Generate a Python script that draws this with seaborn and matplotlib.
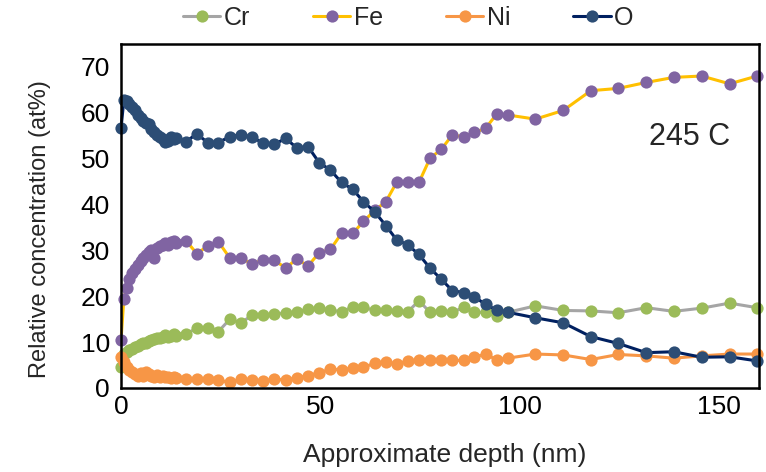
import pandas as pd
import seaborn as sns
import matplotlib.pyplot as plt

# depth (nm)
depth = [0, 0.7, 1.4, 2.1, 2.8, 3.5, 4.2, 4.9, 5.5, 6.2, 6.9, 7.6, 8.3, 9.0, 9.7,
         10.4, 11.1, 11.8, 12.5, 13.2, 13.9,
         16.3, 19.0, 21.7, 24.4, 27.3, 30.1, 32.9, 35.7, 38.4, 41.3, 44.1, 46.9,
         49.7, 52.5, 55.3, 58.1, 60.8, 63.6, 66.4, 69.1, 71.9, 74.7, 77.5, 80.3,
         83.1, 85.9, 88.6, 91.4, 94.2, 97.0,
         103.9, 110.9, 117.8, 124.7, 131.7, 138.6, 145.6, 152.6, 159.5]

cr = [4.6, 7.4, 7.9, 8.3, 8.6, 8.9, 9.2, 9.5, 9.7, 9.9, 10.3, 10.4, 10.6, 10.9, 10.8,
      11.2, 11.5, 11.2, 11.4, 11.8, 11.3,
      11.8, 13.0, 13.0, 12.3, 15.0, 14.2, 15.9, 15.9, 16.1, 16.4, 16.5, 17.2,
      17.4, 17.0, 16.6, 17.7, 17.6, 16.9, 17.0, 16.8, 16.6, 19.0, 16.5, 16.8,
      16.5, 17.6, 16.5, 16.5, 15.6, 16.5,
      17.9, 16.9, 16.8, 16.4, 17.5, 16.7, 17.4, 18.5, 17.5]

fe = [10.4, 19.4, 21.8, 23.8, 25.0, 26.0, 26.8, 27.6, 28.3, 29.0, 29.6, 30.0, 28.4, 30.5, 31.0,
      31.2, 31.5, 31.2, 31.8, 32.0, 31.6,
      32.1, 29.3, 30.9, 31.9, 28.3, 28.3, 27.0, 28.0, 27.8, 26.2, 28.1, 26.6,
      29.5, 30.2, 33.7, 33.7, 36.3, 38.7, 40.6, 44.8, 44.9, 44.8, 50.1, 52.0,
      55.2, 54.7, 55.7, 56.6, 59.7, 59.5,
      58.6, 60.5, 64.8, 65.3, 66.6, 67.7, 68.0, 66.3, 68.0]

ni = [6.8, 5.6, 4.5, 3.9, 3.5, 3.0, 2.6, 3.2, 2.6, 3.4, 3.0, 2.7, 2.5, 2.8, 2.4,
      2.6, 2.3, 2.5, 2.1, 2.4, 2.2,
      2.0, 1.9, 1.9, 1.7, 1.2, 1.9, 1.7, 1.6, 1.9, 1.8, 2.2, 2.7,
      3.3, 4.1, 4.0, 4.3, 4.5, 5.4, 5.7, 5.2, 5.9, 6.1, 6.1, 6.2,
      6.0, 6.0, 6.8, 7.3, 6.2, 6.5,
      7.4, 7.2, 6.2, 7.3, 7.0, 6.5, 7.0, 7.4, 7.4]

o = [56.6, 62.7, 62.5, 61.8, 61.2, 60.5, 59.5, 58.8, 58.2, 57.8, 57.5, 56.5, 55.8, 55.2, 54.6,
     54.2, 53.6, 53.8, 54.8, 54.3, 54.5,
     53.7, 55.4, 53.5, 53.5, 54.8, 55.2, 54.7, 53.3, 53.1, 54.4, 52.3, 52.6,
     49.1, 47.5, 44.8, 43.3, 40.6, 38.4, 35.4, 32.3, 31.2, 29.1, 26.1, 23.7,
     21.2, 20.8, 19.9, 18.2, 17.0, 16.5,
     15.3, 14.2, 11.2, 9.7, 7.7, 7.9, 6.7, 6.8, 5.9]

elements = ["Cr", "Fe", "Ni", "O"]
line_colors = {"Cr": "#A5A5A5", "Fe": "#FFC000", "Ni": "#F79646", "O": "#002060"}
marker_colors = {"Cr": "#9BBB59", "Fe": "#8064A2", "Ni": "#F79646", "O": "#2C4D75"}

df = pd.DataFrame({"Depth": depth, "Cr": cr, "Fe": fe, "Ni": ni, "O": o})
long_df = df.melt(id_vars="Depth", var_name="Element", value_name="Conc")

sns.set_theme(style="white")
plt.rcParams["font.family"] = ["Liberation Sans", "DejaVu Sans"]

fig = plt.figure(figsize=(7.66, 4.72), dpi=100)
ax = fig.add_axes([0.158, 0.178, 0.833, 0.729])

for el in elements:
    sub = long_df[long_df["Element"] == el]
    sns.lineplot(data=sub, x="Depth", y="Conc", ax=ax, label=el,
                 color=line_colors[el], linewidth=2.2, marker="o", markersize=8.8,
                 markerfacecolor=marker_colors[el], markeredgewidth=0,
                 sort=False, estimator=None, clip_on=False)

ax.set_xlim(0, 160)
ax.set_ylim(0, 75)
ax.set_xticks([0, 50, 100, 150])
ax.set_yticks(range(0, 80, 10))
ax.tick_params(direction="in", length=6, width=1.5, labelsize=19, colors="black")
ax.tick_params(axis="y", pad=8)
ax.tick_params(axis="x", pad=5)
for sp in ax.spines.values():
    sp.set_visible(True)
    sp.set_color("black")
    sp.set_linewidth(1.8)
    sp.set_zorder(5)

ax.set_xlabel("Approximate depth (nm)", fontsize=19)
ax.set_ylabel("Relative concentration (at%)", fontsize=17)
ax.xaxis.set_label_coords(0.508, -0.16)
ax.yaxis.set_label_coords(-0.11, 0.462)
ax.text(142.5, 54.7, "245 C", fontsize=22, ha="center", va="center")

handles, labels = ax.get_legend_handles_labels()
ax.get_legend().remove()
fig.legend(handles, labels, loc="upper center", bbox_to_anchor=(0.533, 1.035), ncol=4,
           frameon=False, fontsize=18, handlelength=1.5, columnspacing=2.5,
           handletextpad=0.15)

fig.savefig("out.png", dpi=100)
